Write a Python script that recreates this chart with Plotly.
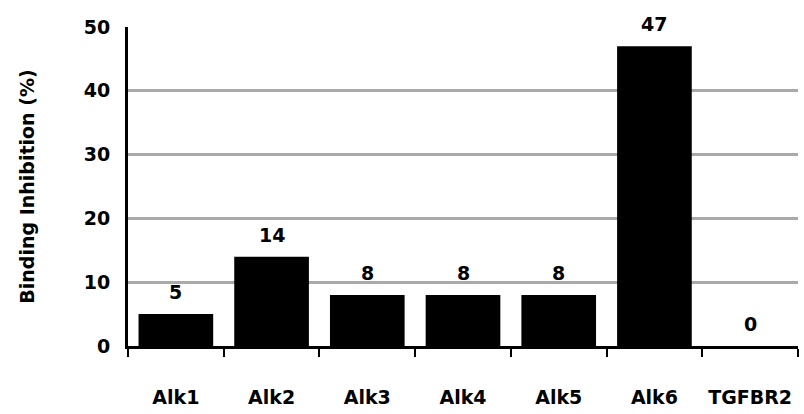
import plotly.graph_objects as go

categories = ["Alk1", "Alk2", "Alk3", "Alk4", "Alk5", "Alk6", "TGFBR2"]
values = [5, 14, 8, 8, 8, 47, 0]
y_ticks = [0, 10, 20, 30, 40, 50]

FONT = dict(family="DejaVu Sans, sans-serif", size=19, color="black", weight="bold")

fig = go.Figure()
fig.add_trace(go.Bar(x=categories, y=values, marker=dict(color="black", line=dict(width=0)),
                     width=0.78))

for c, v in zip(categories, values):
    fig.add_annotation(x=c, y=v, text=str(v), showarrow=False, yanchor="bottom",
                       yshift=9, font=FONT)

fig.add_annotation(xref="paper", yref="paper", x=-0.152, y=0.5, text="Binding Inhibition (%)",
                   textangle=-90, showarrow=False, xanchor="center", yanchor="middle",
                   font=dict(FONT, size=19))

fig.update_layout(
    width=804, height=414,
    margin=dict(l=128, r=6, t=27, b=65),
    paper_bgcolor="white", plot_bgcolor="white",
    showlegend=False,
    font=FONT,
)
fig.update_xaxes(
    showline=True, linecolor="black", linewidth=3,
    ticks="outside", tickson="boundaries", ticklen=8, tickwidth=2, tickcolor="black",
    ticklabelstandoff=32, tickfont=FONT, showgrid=False,
)
fig.update_yaxes(
    range=[0, 50], tickvals=y_ticks, showline=True, linecolor="black", linewidth=3,
    showgrid=True, gridcolor="#AAAAAA", gridwidth=3, zeroline=False,
    ticks="", ticklabelstandoff=11, tickfont=dict(FONT, size=19),
)
fig.write_html("out.html")
